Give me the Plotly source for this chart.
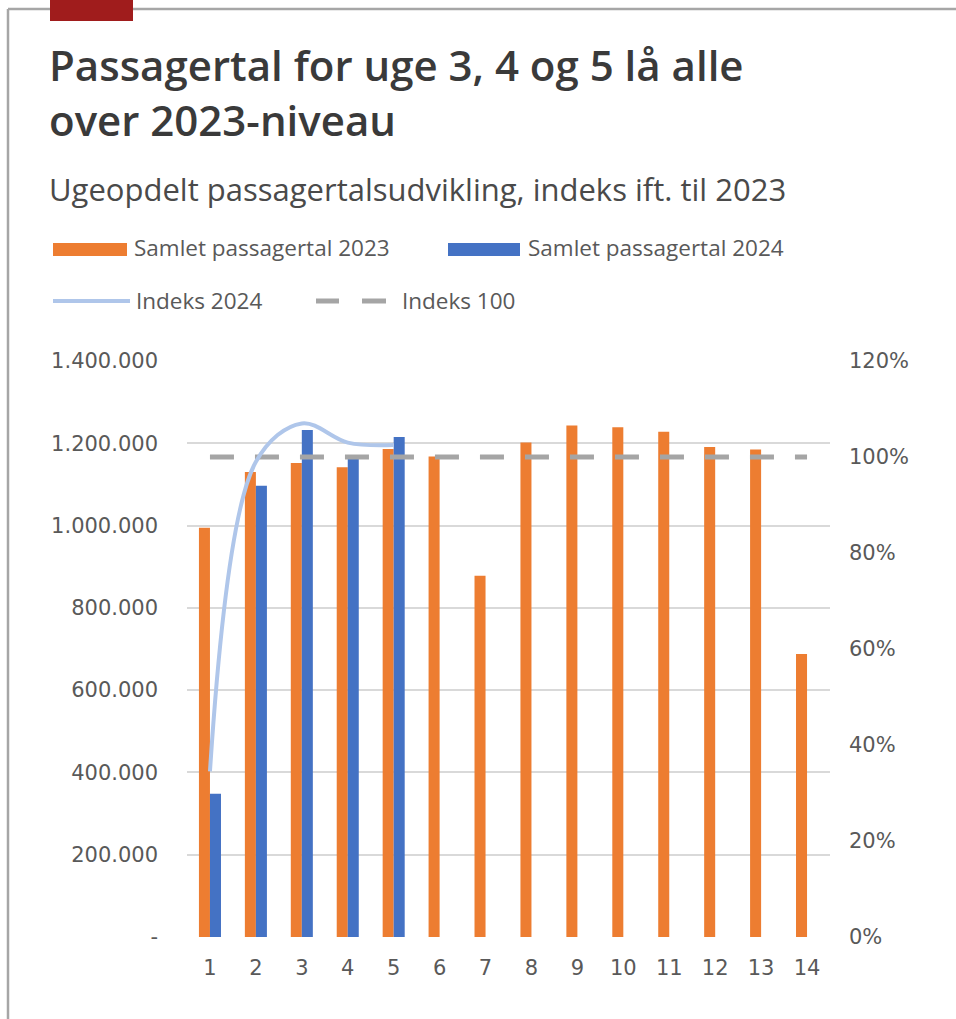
import plotly.graph_objects as go

# Weekly passenger numbers and index vs. 2023
weeks = list(range(1, 15))
pax_2023 = [995000, 1130000, 1152000, 1142000, 1186000, 1168000, 878000,
            1202000, 1243000, 1239000, 1228000, 1191000, 1185000, 688000]
pax_2024 = [348000, 1097000, 1232000, 1165000, 1215000]
index_2024 = [0.345, 0.99, 1.07, 1.03, 1.025]
index_100 = [1.0] * 14

left_ticks = [0, 200000, 400000, 600000, 800000, 1000000, 1200000, 1400000]
left_labels = ["-", "200.000", "400.000", "600.000", "800.000",
               "1.000.000", "1.200.000", "1.400.000"]
right_ticks = [0, 0.2, 0.4, 0.6, 0.8, 1.0, 1.2]
right_labels = ["0%", "20%", "40%", "60%", "80%", "100%", "120%"]

title = "Passagertal for uge 3, 4 og 5 lå alle<br>over 2023-niveau"
subtitle = "Ugeopdelt passagertalsudvikling, indeks ift. til 2023"

W, H = 956, 1019
ORANGE = "#ED7D31"
BLUE = "#4472C4"
LIGHT_BLUE = "#AFC6EA"
GREY = "#A5A5A5"
TEXT = "#595959"
AXIS_FONT = "DejaVu Sans"
LEG_FONT = "Open Sans"


def px(x):
    return x / W


def py(y):
    return 1 - y / H


fig = go.Figure()
fig.add_trace(go.Bar(x=weeks, y=pax_2023, name="Samlet passagertal 2023",
                     marker=dict(color=ORANGE, line=dict(width=0))))
fig.add_trace(go.Bar(x=weeks[:len(pax_2024)], y=pax_2024, name="Samlet passagertal 2024",
                     marker=dict(color=BLUE, line=dict(width=0))))
fig.add_trace(go.Scatter(x=weeks, y=index_100, name="Indeks 100", yaxis="y2",
                         mode="lines", line=dict(color=GREY, width=5, dash="24px,21px")))
fig.add_trace(go.Scatter(x=weeks[:len(index_2024)], y=index_2024, name="Indeks 2024",
                         yaxis="y2", mode="lines",
                         line=dict(color=LIGHT_BLUE, width=4, shape="spline", smoothing=1)))

shapes = [
    # frame
    dict(type="line", xref="paper", yref="paper", x0=px(8), x1=1, y0=py(9), y1=py(9),
         line=dict(color="#A6A6A6", width=2.5)),
    dict(type="line", xref="paper", yref="paper", x0=px(8), x1=px(8), y0=py(9), y1=0,
         line=dict(color="#A6A6A6", width=2.5)),
    # red accent bar
    dict(type="rect", xref="paper", yref="paper", x0=px(50), x1=px(133), y0=py(21), y1=1,
         fillcolor="#A01C1C", line=dict(width=0)),
    # legend swatches
    dict(type="rect", xref="paper", yref="paper", x0=px(53), x1=px(127), y0=py(256), y1=py(243),
         fillcolor=ORANGE, line=dict(width=0)),
    dict(type="rect", xref="paper", yref="paper", x0=px(448), x1=px(520), y0=py(256), y1=py(243),
         fillcolor=BLUE, line=dict(width=0)),
    dict(type="line", xref="paper", yref="paper", x0=px(53), x1=px(130), y0=py(301), y1=py(301),
         line=dict(color=LIGHT_BLUE, width=4)),
    dict(type="line", xref="paper", yref="paper", x0=px(316), x1=px(339), y0=py(301), y1=py(301),
         line=dict(color=GREY, width=5)),
    dict(type="line", xref="paper", yref="paper", x0=px(362), x1=px(386), y0=py(301), y1=py(301),
         line=dict(color=GREY, width=5)),
]

annotations = [
    dict(text=title, xref="paper", yref="paper", x=px(47), y=py(92),
         xanchor="left", yanchor="middle", showarrow=False, align="left",
         font=dict(family="Open Sans", size=42, weight=600, color="#3a3a3a")),
    dict(text=subtitle, xref="paper", yref="paper", x=px(47), y=py(189),
         xanchor="left", yanchor="middle", showarrow=False,
         font=dict(family="Open Sans", size=31, color="#4a4a4a")),
]
legend_items = [
    ("Samlet passagertal 2023", 132, 248),
    ("Samlet passagertal 2024", 526, 248),
    ("Indeks 2024", 134, 301),
    ("Indeks 100", 400, 301),
]
for label, lx, ly in legend_items:
    annotations.append(dict(text=label, xref="paper", yref="paper", x=px(lx), y=py(ly),
                            xanchor="left", yanchor="middle", showarrow=False,
                            font=dict(family=LEG_FONT, size=22.5, color=TEXT)))

fig.update_layout(
    template="none",
    width=W, height=H,
    margin=dict(l=0, r=0, t=0, b=0, pad=0),
    paper_bgcolor="white", plot_bgcolor="white",
    barmode="group", bargap=0.52, bargroupgap=0,
    showlegend=False,
    xaxis=dict(domain=[px(187), px(830)], range=[0.5, 14.5], tickvals=weeks,
               showgrid=False, zeroline=False, showline=False, ticks="",
               automargin=False, ticklabelstandoff=16,
               tickfont=dict(family=AXIS_FONT, size=21, color=TEXT)),
    yaxis=dict(domain=[py(937), py(361)], range=[0, 1400000],
               tickvals=left_ticks, ticktext=left_labels,
               showgrid=True, gridcolor="#D9D9D9", gridwidth=1.5,
               zeroline=False, showline=False, ticks="", automargin=False,
               ticklabelstandoff=28,
               tickfont=dict(family=AXIS_FONT, size=21, color=TEXT)),
    yaxis2=dict(overlaying="y", side="right", range=[0, 1.2],
                tickvals=right_ticks, ticktext=right_labels,
                showgrid=False, zeroline=False, showline=False, ticks="",
                automargin=False, ticklabelstandoff=18,
                tickfont=dict(family=AXIS_FONT, size=21, color=TEXT)),
    shapes=shapes,
    annotations=annotations,
)

fig.write_html("out.html")
